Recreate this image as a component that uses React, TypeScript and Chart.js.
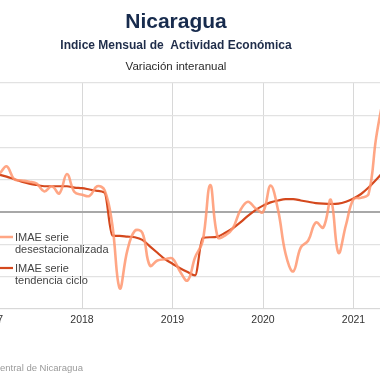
import React, { useEffect, useRef } from "react";
import { Chart, registerables } from "chart.js";

Chart.register(...registerables);

// ---- Data (monthly, starting January 2017) ----
const startYear = 2017;
const yearTicks = [2017, 2018, 2019, 2020, 2021];
const desestacionalizada = [
  5.5, 5.9, 7.1, 5.1, 4.9, 4.7, 4.4, 3.2, 4.0, 2.9, 5.9, 3.1,
  2.7, 2.5, 4.0, 3.4, -1.8, -11.8, -6.0, -2.9, -3.2, -8.3, -7.5, -7.3,
  -7.2, -9.2, -10.6, -7.0, -4.5, 4.2, -3.9, -3.6, -2.5, 0.3, 1.6, 0.6,
  0.0, 4.1, 0.3, -6.5, -9.2, -5.5, -4.4, -1.6, -2.4, 1.9, -6.3, -2.0,
  2.0, 2.2, 2.8, 11.5, 18.0,
];
const tendenciaCiclo = [
  6.0, 5.8, 5.5, 5.1, 4.7, 4.4, 4.2, 4.0, 4.0, 4.0, 4.0, 3.8,
  3.7, 3.5, 3.3, 3.0, -3.6, -3.7, -3.8, -3.9, -4.3, -5.3, -6.3, -7.3,
  -8.0, -8.7, -9.3, -9.8, -4.0, -3.9, -3.8, -3.2, -2.5, -1.6, -0.6, 0.3,
  1.0, 1.5, 1.8, 2.0, 2.0, 1.8, 1.6, 1.4, 1.3, 1.25, 1.3, 1.6,
  2.1, 2.8, 3.8, 5.0, 6.3,
];
const seriesNames = [
  ["IMAE serie", "desestacionalizada"],
  ["IMAE serie", "tendencia ciclo"],
];
const titleText = "Nicaragua";
const subtitleText = "Indice Mensual de  Actividad Económica";
const subtitle2Text = "Variación interanual";
const sourceText = "Fuente: Banco Central de Nicaragua";
const yMin = -15;
const yMax = 20;
const yStep = 5;

const LIGHT = "rgba(255,150,112,0.85)";
const DARK = "#d4481d";
const FONT = "'Liberation Sans', Arial, sans-serif";
const OFFSET = 60; // canvas is shifted left (cropped view)

const textPlugin = {
  id: "texts",
  afterDraw(chart: any) {
    const ctx = chart.ctx as CanvasRenderingContext2D;
    const ca = chart.chartArea;
    const cx = chart.width / 2;
    ctx.save();
    ctx.textAlign = "center";
    ctx.textBaseline = "alphabetic";
    ctx.fillStyle = "#172b4d";
    ctx.font = `bold 21px ${FONT}`;
    ctx.fillText(titleText, cx, 28);
    ctx.fillStyle = "#1f2d4a";
    ctx.font = `bold 12px ${FONT}`;
    ctx.fillText(subtitleText, cx, 48.5);
    ctx.fillStyle = "#2a2a2a";
    ctx.font = `11.5px ${FONT}`;
    ctx.fillText(subtitle2Text, cx, 70);

    // legend
    const colors = [LIGHT, DARK];
    const widths = [2.5, 2.2];
    const swY = [237, 268];
    ctx.textAlign = "left";
    ctx.font = `11px ${FONT}`;
    for (let i = 0; i < 2; i++) {
      ctx.strokeStyle = colors[i];
      ctx.lineWidth = widths[i];
      ctx.beginPath();
      ctx.moveTo(ca.left + 2, swY[i]);
      ctx.lineTo(ca.left + 21.5, swY[i]);
      ctx.stroke();
      ctx.fillStyle = "#444";
      ctx.fillText(seriesNames[i][0], ca.left + 23.5, swY[i] + 4);
      ctx.fillText(seriesNames[i][1], ca.left + 23.5, swY[i] + 15.5);
    }

    // source
    ctx.fillStyle = "#9a9a9a";
    ctx.font = `9.5px ${FONT}`;
    const pre = ctx.measureText("Fuente: Banco C").width;
    ctx.fillText(sourceText, OFFSET - pre, 370.5);
    ctx.restore();
  },
};

export default function App() {
  const ref = useRef<HTMLCanvasElement | null>(null);
  useEffect(() => {
    if (!ref.current) return;
    const toPts = (arr: number[]) => arr.map((v, i) => ({ x: i, y: v }));
    const chart = new Chart(ref.current, {
      type: "line",
      data: {
        datasets: [
          {
            label: seriesNames[0].join(" "),
            data: toPts(desestacionalizada),
            borderColor: LIGHT,
            borderWidth: 2.6,
            pointRadius: 0,
            tension: 0.4,
          },
          {
            label: seriesNames[1].join(" "),
            data: toPts(tendenciaCiclo),
            borderColor: DARK,
            borderWidth: 2.2,
            pointRadius: 0,
            cubicInterpolationMode: "monotone",
          },
        ],
      },
      options: {
        animation: false,
        responsive: false,
        devicePixelRatio: 1,
        layout: { padding: { left: 51.5, right: 13.25, top: 83, bottom: 48.5 } },
        plugins: {
          legend: { display: false },
          title: { display: false },
          tooltip: { enabled: false },
        },
        scales: {
          x: {
            type: "linear",
            min: 0,
            max: 54,
            afterBuildTicks: (scale: any) => {
              scale.ticks = yearTicks.map((y) => ({ value: (y - startYear) * 12 }));
            },
            ticks: {
              callback: (v: any) => String(startYear + Math.round(Number(v) / 12)),
              font: { family: FONT, size: 10.5 },
              color: "#333",
              padding: 5,
              maxRotation: 0,
              autoSkip: false,
            },
            grid: { color: "#d8d8d8", lineWidth: 1, drawTicks: false },
            border: { color: "#d8d8d8", width: 1 },
          },
          y: {
            min: yMin,
            max: yMax,
            ticks: { display: false, stepSize: yStep },
            grid: {
              drawTicks: false,
              color: (c: any) => (c.tick && c.tick.value === 0 ? "#a8a8a8" : "#e2e2e2"),
              lineWidth: (c: any) => (c.tick && c.tick.value === 0 ? 2 : 1.2),
            },
            border: { display: false },
          },
        },
      },
      plugins: [textPlugin],
    });
    return () => chart.destroy();
  }, []);

  return (
    <div style={{ position: "fixed", left: 0, top: 0, width: 380, height: 380, overflow: "hidden", background: "#fff" }}>
      <canvas
        ref={ref}
        width={472}
        height={380}
        style={{ position: "absolute", left: -OFFSET, top: 0, width: 472, height: 380 }}
      />
    </div>
  );
}
